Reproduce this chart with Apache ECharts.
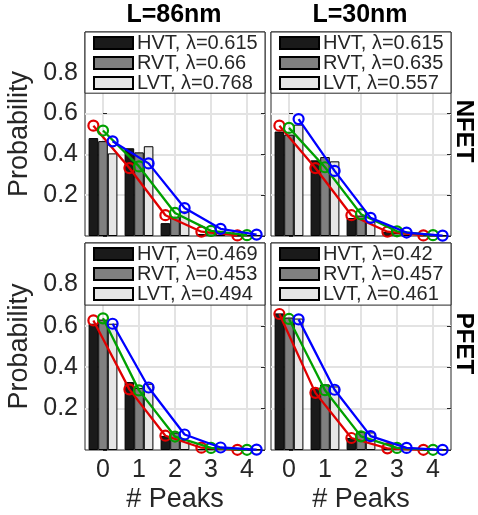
<!DOCTYPE html>
<html>
<head>
<meta charset="utf-8">
<script src="https://cdn.jsdelivr.net/npm/echarts@6/dist/echarts.min.js"></script>
<style>
html, body { margin: 0; padding: 0; background: #fff; }
#chart { width: 478px; height: 515px; }
</style>
</head>
<body>
<div id="chart"></div>
<script>
// Number of peaks (x categories)
const peaks = [0, 1, 2, 3, 4];
const vtNames = ['HVT', 'RVT', 'LVT'];
const colTitles = ['L=86nm', 'L=30nm'];
const rowTitles = ['NFET', 'PFET'];
const yTickLabels = ['0.2', '0.4', '0.6', '0.8'];

// Measured probability per threshold flavour
const nfet86Hvt = [0.480, 0.430, 0.063, 0.010, 0.002];
const nfet86Rvt = [0.465, 0.410, 0.094, 0.020, 0.003];
const nfet86Lvt = [0.405, 0.440, 0.120, 0.025, 0.005];
const nfet30Hvt = [0.512, 0.371, 0.088, 0.020, 0.003];
const nfet30Rvt = [0.497, 0.387, 0.100, 0.015, 0.002];
const nfet30Lvt = [0.546, 0.366, 0.070, 0.012, 0.002];
const pfet86Hvt = [0.610, 0.328, 0.068, 0.005, 0.001];
const pfet86Rvt = [0.630, 0.300, 0.084, 0.008, 0.001];
const pfet86Lvt = [0.610, 0.320, 0.049, 0.010, 0.002];
const pfet30Hvt = [0.660, 0.300, 0.058, 0.010, 0.001];
const pfet30Rvt = [0.640, 0.317, 0.088, 0.010, 0.001];
const pfet30Lvt = [0.635, 0.307, 0.085, 0.010, 0.001];

// Poisson rate of each fit (HVT, RVT, LVT)
const nfet86Lambda = [0.615, 0.66, 0.768];
const nfet30Lambda = [0.615, 0.635, 0.557];
const pfet86Lambda = [0.469, 0.453, 0.494];
const pfet30Lambda = [0.42, 0.457, 0.461];

// Fitted Poisson curves
const nfet86FitHvt = [0.541, 0.333, 0.102, 0.021, 0.003];
const nfet86FitRvt = [0.517, 0.341, 0.113, 0.025, 0.004];
const nfet86FitLvt = [0.464, 0.356, 0.137, 0.035, 0.007];
const nfet30FitHvt = [0.541, 0.333, 0.102, 0.021, 0.003];
const nfet30FitRvt = [0.530, 0.337, 0.107, 0.023, 0.004];
const nfet30FitLvt = [0.573, 0.319, 0.089, 0.017, 0.002];
const pfet86FitHvt = [0.626, 0.293, 0.069, 0.011, 0.001];
const pfet86FitRvt = [0.636, 0.288, 0.065, 0.010, 0.001];
const pfet86FitLvt = [0.610, 0.302, 0.075, 0.012, 0.002];
const pfet30FitHvt = [0.657, 0.276, 0.058, 0.008, 0.001];
const pfet30FitRvt = [0.633, 0.289, 0.066, 0.010, 0.001];
const pfet30FitLvt = [0.631, 0.291, 0.067, 0.010, 0.001];

const panels = [
  { row: 0, col: 0, bars: [nfet86Hvt, nfet86Rvt, nfet86Lvt], fits: [nfet86FitHvt, nfet86FitRvt, nfet86FitLvt], lambdas: nfet86Lambda },
  { row: 0, col: 1, bars: [nfet30Hvt, nfet30Rvt, nfet30Lvt], fits: [nfet30FitHvt, nfet30FitRvt, nfet30FitLvt], lambdas: nfet30Lambda },
  { row: 1, col: 0, bars: [pfet86Hvt, pfet86Rvt, pfet86Lvt], fits: [pfet86FitHvt, pfet86FitRvt, pfet86FitLvt], lambdas: pfet86Lambda },
  { row: 1, col: 1, bars: [pfet30Hvt, pfet30Rvt, pfet30Lvt], fits: [pfet30FitHvt, pfet30FitRvt, pfet30FitLvt], lambdas: pfet30Lambda }
];

const FONT = "'Liberation Sans', Arial, Helvetica, sans-serif";
const TEXT_C = '#262626';
const GRID_C = '#e3e3e3';
const BAR_C = ['#1a1a1a', '#808080', '#e6e6e6'];
const LINE_C = ['#e00000', '#00a000', '#0000ff'];
const CAT_GAP = 0.2;
const BAR_SHIFT = (1 - CAT_GAP) / 3;

const colLeft = [85, 271];
const colWidth = 180;
const rowTop = [32, 243];
const rowHeight = [204, 207];
const legendTop = [33, 244];

const grid = [], xAxis = [], yAxis = [], series = [], legend = [];

panels.forEach((p, g) => {
  grid.push({
    left: colLeft[p.col], top: rowTop[p.row], width: colWidth, height: rowHeight[p.row],
    show: true, backgroundColor: '#fff', borderColor: TEXT_C, borderWidth: 1
  });
  // visible value axis: tick labels, vertical grid lines at whole peak counts
  xAxis.push({
    gridIndex: g, type: 'value', min: -0.5, max: 4.5, interval: 0.5,
    axisLine: { show: false }, axisTick: { show: false },
    axisLabel: {
      show: p.row === 1, margin: 8, color: TEXT_C, fontFamily: FONT, fontSize: 25,
      formatter: v => (Math.abs(v - Math.round(v)) < 1e-6 ? String(Math.round(v)) : '')
    },
    splitLine: { show: true, lineStyle: { color: ['rgba(0,0,0,0)', GRID_C], width: 2 } },
    name: p.row === 1 ? '# Peaks' : '', nameLocation: 'middle', nameGap: 36,
    nameTextStyle: { color: TEXT_C, fontFamily: FONT, fontSize: 27 }
  });
  // hidden category axis carrying the grouped bars
  xAxis.push({
    gridIndex: g, type: 'category', data: peaks.map(String), show: false, boundaryGap: true
  });
  yAxis.push({
    gridIndex: g, type: 'value', min: 0, max: 1, interval: 0.2,
    axisLine: { show: false },
    axisTick: { show: true, inside: true, length: 4, lineStyle: { color: TEXT_C } },
    axisLabel: {
      show: p.col === 0, margin: 7, color: TEXT_C, fontFamily: FONT, fontSize: 25,
      formatter: v => { const s = v.toFixed(1); return yTickLabels.includes(s) ? s : ''; }
    },
    splitLine: { show: true, showMinLine: false, showMaxLine: false, lineStyle: { color: GRID_C, width: 2 } },
    name: p.col === 0 ? 'Probability' : '', nameLocation: 'middle', nameGap: 52,
    nameTextStyle: { color: TEXT_C, fontFamily: FONT, fontSize: 27 }
  });
  yAxis.push({
    gridIndex: g, type: 'value', position: 'right', min: 0, max: 1, interval: 0.2,
    axisLine: { show: false },
    axisTick: { show: true, inside: true, length: 4, lineStyle: { color: TEXT_C } },
    axisLabel: { show: false }, splitLine: { show: false }
  });

  const names = vtNames.map((n, i) => n + ', λ=' + p.lambdas[i]);
  p.bars.forEach((vals, i) => {
    series.push({
      type: 'bar', name: names[i], xAxisIndex: 2 * g + 1, yAxisIndex: 2 * g,
      data: vals, barGap: '0%', barCategoryGap: (CAT_GAP * 100) + '%',
      itemStyle: { color: BAR_C[i], borderColor: '#000', borderWidth: 1 },
      emphasis: { disabled: true }, silent: true, z: 2
    });
  });
  p.fits.forEach((vals, i) => {
    const s = {
      type: 'line', name: 'fit ' + names[i], xAxisIndex: 2 * g, yAxisIndex: 2 * g,
      data: peaks.map((k, j) => [k + (i - 1) * BAR_SHIFT, vals[j]]),
      lineStyle: { color: LINE_C[i], width: 2.3 },
      symbol: 'circle', symbolSize: 10,
      itemStyle: { color: 'rgba(0,0,0,0)', borderColor: LINE_C[i], borderWidth: 2.2 },
      clip: false, silent: true, emphasis: { disabled: true }, z: 3 + i
    };
    if (i === 0) {
      // white legend panel across the top of the axes
      s.markArea = {
        silent: true, label: { show: false },
        itemStyle: { color: '#fff', borderColor: TEXT_C, borderWidth: 1 },
        data: [[{ xAxis: -0.5, yAxis: 0.7 }, { xAxis: 4.5, yAxis: 1 }]]
      };
    }
    series.push(s);
  });
  legend.push({
    orient: 'vertical', left: colLeft[p.col] + 8, top: legendTop[p.row],
    padding: 0, itemGap: 0, itemWidth: 39, itemHeight: 12, icon: 'rect',
    selectedMode: false, data: names,
    textStyle: { color: TEXT_C, fontFamily: FONT, fontSize: 20, padding: [0, 0, 0, -1] }
  });
});

const option = {
  animation: false,
  backgroundColor: '#fff',
  title: colTitles.map((t, c) => ({
    text: t, left: colLeft[c] + colWidth / 2 - 1, top: 3, textAlign: 'center', padding: 0,
    textStyle: { color: '#000', fontFamily: FONT, fontWeight: 'bold', fontSize: 25 }
  })),
  graphic: rowTitles.map((t, r) => ({
    type: 'text', x: 464, y: rowTop[r] + rowHeight[r] / 2 - 3, rotation: -Math.PI / 2,
    style: { text: t, fill: '#000', font: 'bold 24px ' + FONT, textAlign: 'center', textVerticalAlign: 'middle' }
  })),
  grid, xAxis, yAxis, series, legend
};

echarts.init(document.getElementById('chart')).setOption(option);
</script>
</body>
</html>
